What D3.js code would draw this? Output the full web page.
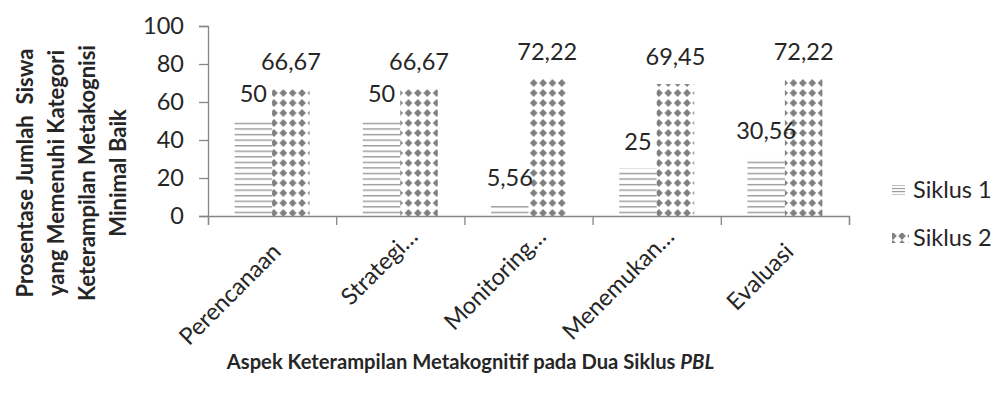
<!DOCTYPE html>
<html>
<head>
<meta charset="utf-8">
<script src="https://cdn.jsdelivr.net/npm/d3@7"></script>
<style>
  html, body { margin: 0; padding: 0; background: #fff; }
  svg { display: block; }
  text { font-family: Lato, "Open Sans", sans-serif; fill: #262626; }
</style>
</head>
<body>
<svg id="chart" width="997" height="394"></svg>
<script>
// Aspects of metacognitive skill and the share of students (%) reaching at least "Baik"
const categories = ["Perencanaan", "Strategi\u2026", "Monitoring\u2026", "Menemukan\u2026", "Evaluasi"];
const seriesNames = ["Siklus 1", "Siklus 2"];
const siklus1 = [50, 50, 5.56, 25, 30.56];
const siklus2 = [66.67, 66.67, 72.22, 69.45, 72.22];
const yTicks = [0, 20, 40, 60, 80, 100];
const yTitleLines = ["Prosentase Jumlah  Siswa", "yang Memenuhi Kategori", "Keterampilan Metakognisi", "Minimal Baik"];
const xTitle = "Aspek Keterampilan Metakognitif pada Dua Siklus ";
const xTitleItalic = "PBL";

const svg = d3.select("#chart");
const plot = { left: 208, right: 849, top: 26, bottom: 216 };
const axisColor = "#868686";
const fontSize = 23.5;
const fmt = v => String(v).replace(".", ",");

const x0 = d3.scaleBand().domain(categories).range([plot.left, plot.right]).padding(0);
const x1 = d3.scaleBand().domain(seriesNames).range([0, x0.bandwidth()])
  .paddingInner(0).paddingOuter(0.71);
const y = d3.scaleLinear().domain([0, 100]).range([plot.bottom, plot.top]);
const xEdges = d3.scaleLinear().domain([0, categories.length]).range([plot.left, plot.right]);

const rows = categories.map((c, i) => ({ cat: c, i, values: [siklus1[i], siklus2[i]] }));

// ---- fill patterns ----
const defs = svg.append("defs");
const lineStep = 5.56;
const hp = defs.append("pattern").attr("id", "hlines")
  .attr("patternUnits", "userSpaceOnUse")
  .attr("width", 8).attr("height", lineStep)
  .attr("y", y(0) - 4.3);
hp.append("rect").attr("x", 0).attr("y", 0).attr("width", 8).attr("height", 1.4).attr("fill", "#9a9a9a");

const bw = x1.bandwidth();
const dw = bw / 4, dh = 10, rx = 3.8, ry = 4;
function diamondPattern(id, xStart, yStart, w, h) {
  const p = defs.append("pattern").attr("id", id)
    .attr("patternUnits", "userSpaceOnUse")
    .attr("width", w).attr("height", h)
    .attr("x", xStart).attr("y", yStart);
  [[0, 0], [w, 0], [0, h], [w, h]].forEach(([cx, cy]) => {
    p.append("path")
      .attr("d", `M${cx - rx},${cy}L${cx},${cy - ry}L${cx + rx},${cy}L${cx},${cy + ry}Z`)
      .attr("fill", "#808080");
  });
}
rows.forEach(r => diamondPattern("dia" + r.i, x0(r.cat) + x1("Siklus 2"), y(0) - 3, dw, dh));

// ---- axes ----
const yAxis = d3.axisLeft(y).tickValues(yTicks).tickSize(9).tickPadding(15).tickFormat(d3.format("d"));
const gy = svg.append("g").attr("transform", `translate(${plot.left},0)`).call(yAxis);
gy.select(".domain").attr("stroke", axisColor).attr("stroke-width", 1.3);
gy.selectAll(".tick line").attr("stroke", axisColor).attr("stroke-width", 1.3);
gy.selectAll(".tick text").attr("font-size", fontSize).attr("fill", "#262626")
  .style("font-family", "Lato, sans-serif");

const xAxis = d3.axisBottom(xEdges).ticks(categories.length).tickSize(9).tickFormat("");
const gx = svg.append("g").attr("transform", `translate(0,${plot.bottom})`).call(xAxis);
gx.select(".domain").attr("stroke", axisColor).attr("stroke-width", 1.3);
gx.selectAll(".tick line").attr("stroke", axisColor).attr("stroke-width", 1.3);

// ---- bars ----
const groups = svg.append("g").selectAll("g").data(rows).join("g")
  .attr("transform", d => `translate(${x0(d.cat)},0)`);

groups.selectAll("rect").data(d => d.values.map((v, k) => ({ v, k, i: d.i })))
  .join("rect")
  .attr("x", d => x1(seriesNames[d.k]))
  .attr("width", bw)
  .attr("y", d => y(d.v))
  .attr("height", d => y(0) - y(d.v))
  .attr("fill", d => d.k === 0 ? "url(#hlines)" : `url(#dia${d.i})`);

groups.selectAll("text.val").data(d => d.values.map((v, k) => ({ v, k })))
  .join("text").attr("class", "val")
  .attr("x", d => x1(seriesNames[d.k]) + bw / 2)
  .attr("y", d => y(d.v) - 19)
  .attr("text-anchor", "middle")
  .attr("font-size", fontSize)
  .text(d => fmt(d.v));

// ---- category labels (rotated; full labels sit a little further in than truncated ones) ----
svg.append("g").selectAll("text").data(categories).join("text")
  .attr("transform", d => {
    const cx = x0(d) + x0.bandwidth() / 2 + 19;
    const inset = d.endsWith("\u2026") ? "" : " translate(-17,4.5)";
    return `translate(${cx},${plot.bottom + 22}) rotate(-45)${inset}`;
  })
  .attr("text-anchor", "end")
  .attr("font-size", fontSize)
  .text(d => d);

// ---- titles ----
const xt = svg.append("text")
  .attr("x", (plot.left + plot.right) / 2 - 58).attr("y", 369)
  .attr("text-anchor", "middle")
  .attr("font-size", 20.2).attr("font-weight", "bold").attr("fill", "#111");
xt.append("tspan").text(xTitle).style("white-space", "pre");
xt.append("tspan").attr("font-style", "italic").text(xTitleItalic);

svg.append("g").selectAll("text").data(yTitleLines).join("text")
  .attr("transform", (d, i) => `translate(${33 + i * 31},173) rotate(-90)`)
  .attr("text-anchor", "middle")
  .attr("font-size", 22).attr("font-weight", "bold").attr("fill", "#111")
  .style("white-space", "pre")
  .text(d => d);

// ---- legend ----
const legend = svg.append("g");
const lg = legend.selectAll("g").data(seriesNames).join("g")
  .attr("transform", (d, i) => `translate(892,${190 + i * 48})`);
defs.append("pattern").attr("id", "hlinesLegend").attr("patternUnits", "userSpaceOnUse")
  .attr("width", 8).attr("height", 3.3).attr("y", 186)
  .append("rect").attr("width", 8).attr("height", 1).attr("fill", "#8a8a8a");
diamondPattern("diaLegend", 892, 238, 9, 8);
lg.append("rect")
  .attr("x", 0).attr("y", -5)
  .attr("width", (d, i) => i === 0 ? 13 : 17)
  .attr("height", 10)
  .attr("fill", (d, i) => i === 0 ? "url(#hlinesLegend)" : "url(#diaLegend)");
lg.append("text").attr("x", 21).attr("y", 8).attr("font-size", fontSize).text(d => d);
</script>
</body>
</html>
